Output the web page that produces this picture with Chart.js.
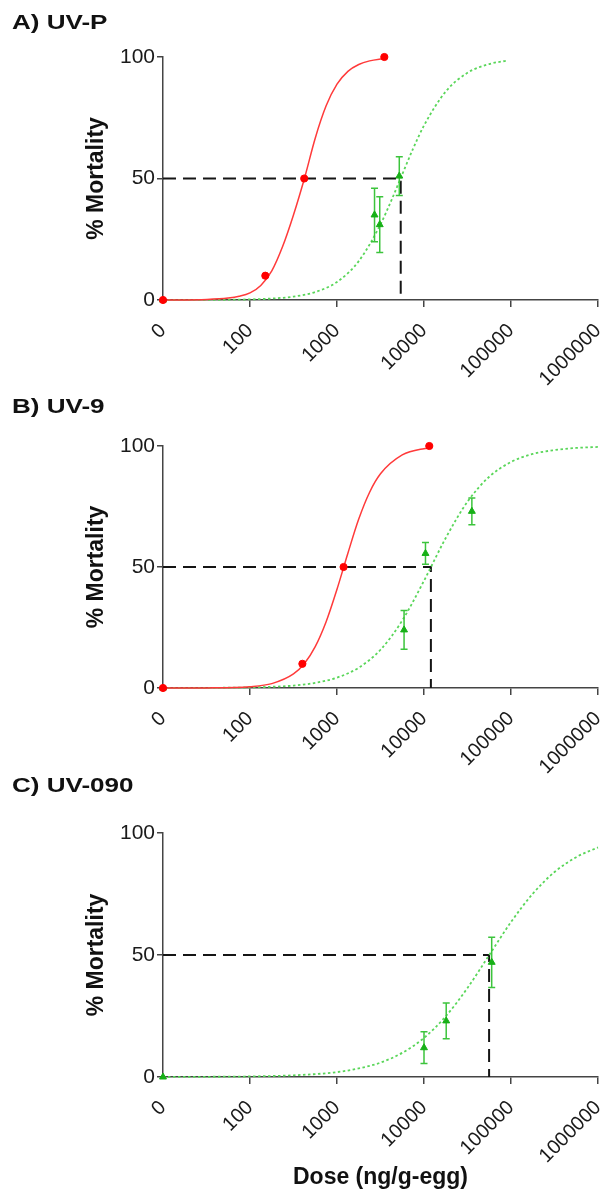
<!DOCTYPE html>
<html><head><meta charset="utf-8">
<script src="https://cdn.jsdelivr.net/npm/chart.js@4.4.1/dist/chart.umd.min.js"></script>
<style>
html,body{margin:0;padding:0;background:#fff;}
body{width:603px;height:1191px;position:relative;overflow:hidden;font-family:"Liberation Sans",Arial,sans-serif;}
.t{position:absolute;left:12px;font-weight:bold;font-size:21px;line-height:21px;color:#111;transform:scaleX(1.24);transform-origin:0 0;white-space:nowrap;}
.w{position:absolute;left:0;width:603px;}
</style></head><body>
<div class="w" style="top:0;height:390px"><canvas id="cA"></canvas></div>
<div class="w" style="top:390px;height:390px"><canvas id="cB"></canvas></div>
<div class="w" style="top:780px;height:411px"><canvas id="cC"></canvas></div>
<div class="t" style="top:11px">A) UV-P</div>
<div class="t" style="top:395px">B) UV-9</div>
<div class="t" style="top:774px">C) UV-090</div>
<script>
// ---- axis ticks ----
const doseTicks = [10, 100, 1000, 10000, 100000, 1000000];
const doseTickLabels = ['0', '100', '1000', '10000', '100000', '1000000'];
const mortTicks = [0, 50, 100];

// ---- Panel A: UV-P ----
const aRedDose = [10, 150, 420, 3500];
const aRedMort = [0, 10, 50, 100];
const aGreenDose = [10, 2700, 3100, 5200];
const aGreenMort = [0, 35, 31, 51];
const aGreenErr = [0, 11, 11.5, 8];
const aRedFitDose = [10, 32, 56, 75, 100, 133, 178, 237, 316, 422, 562, 750, 1000, 1334, 1778, 2371, 3467];
const aRedFitMort = [0, 0.25, 0.8, 1.5, 2.9, 6.0, 12.0, 22.0, 35.0, 50, 66.6, 79.9, 88.8, 94.1, 96.9, 98.4, 99.4];
const aGreenFitDose = [10, 32, 100, 178, 316, 562, 1000, 1778, 3162, 4217, 5623, 7499, 10000, 17783, 31623, 56234, 89125];
const aGreenFitMort = [0, 0.05, 0.25, 0.6, 1.4, 3.3, 7.4, 16.0, 31.1, 41.0, 51.7, 62.3, 71.8, 85.8, 93.5, 97.1, 98.5];
const aLC50 = 5400;

// ---- Panel B: UV-9 ----
const bRedDose = [10, 400, 1190, 11500];
const bRedMort = [0, 10, 50, 100];
const bGreenDose = [10, 5900, 10400, 35500];
const bGreenMort = [0, 24, 55.6, 73];
const bGreenErr = [0, 8, 4.5, 5.5];
const bRedFitDose = [10, 32, 100, 178, 316, 422, 562, 750, 1000, 1334, 1778, 2371, 3162, 5623, 10000, 11482];
const bRedFitMort = [0, 0.05, 0.55, 1.8, 5.8, 10.1, 17.1, 27.4, 40.8, 55.7, 69.8, 80.9, 88.5, 96.3, 98.9, 99.1];
const bGreenFitDose = [10, 32, 100, 316, 562, 1000, 1778, 3162, 5623, 10000, 17783, 31623, 56234, 100000, 177828, 316228, 562341, 1000000];
const bGreenFitMort = [0, 0.06, 0.25, 1.0, 2.1, 4.3, 8.4, 15.8, 27.9, 44.3, 62.0, 77.0, 87.3, 93.4, 96.7, 98.3, 99.2, 99.6];
const bLC50 = 12000;

// ---- Panel C: UV-090 ----
const cGreenDose = [10, 10000, 18000, 60000];
const cGreenMort = [0, 12, 23, 47];
const cGreenErr = [0, 6.5, 7.3, 10.3];
const cGreenFitDose = [10, 32, 100, 316, 1000, 1778, 3162, 5623, 10000, 17783, 31623, 56234, 100000, 177828, 316228, 562341, 1000000];
const cGreenFitMort = [0, 0.08, 0.23, 0.69, 2.0, 3.5, 5.9, 9.9, 16.0, 24.9, 36.5, 50, 63.5, 75.1, 84.0, 90.1, 94.1];
const cLC50 = 56000;

Chart.defaults.font.family = '"Liberation Sans", Arial, sans-serif';
Chart.defaults.color = '#1a1a1a';

const zip = (xs, ys) => xs.map((x, i) => ({x: x, y: ys[i]}));

const errPlugin = {
  id: 'errbars',
  beforeDatasetDraw(chart, args) {
    const ds = chart.data.datasets[args.index];
    if (!ds.errors) return;
    const ctx = chart.ctx, xs = chart.scales.x, ys = chart.scales.y;
    ctx.save();
    ctx.strokeStyle = '#3cc43c';
    ctx.lineWidth = 1.5;
    ds.data.forEach((p, i) => {
      const e = ds.errors[i];
      if (!e) return;
      const x = xs.getPixelForValue(p.x);
      const y1 = ys.getPixelForValue(p.y + e);
      const y2 = ys.getPixelForValue(p.y - e);
      ctx.beginPath();
      ctx.moveTo(x, y1); ctx.lineTo(x, y2);
      ctx.moveTo(x - 3.5, y1); ctx.lineTo(x + 3.5, y1);
      ctx.moveTo(x - 3.5, y2); ctx.lineTo(x + 3.5, y2);
      ctx.stroke();
    });
    ctx.restore();
  }
};

function build(id, H, areaTop, areaBottom, s, showXTitle) {
  const datasets = [
    {data: zip(s.redDose, s.redMort), showLine: false, pointStyle: 'circle', pointRadius: 3.6,
     backgroundColor: '#ff0000', borderColor: '#ff0000', borderWidth: 1, clip: false},
    {data: zip(s.greenDose, s.greenMort), errors: s.greenErr, showLine: false, pointStyle: 'triangle', pointRadius: 4,
     backgroundColor: '#17b017', borderColor: '#17b017', borderWidth: 1, clip: false},
    {data: zip(s.redFitDose, s.redFitMort), showLine: true, pointRadius: 0, borderColor: '#ff3a3a', borderWidth: 1.5,
     cubicInterpolationMode: 'monotone', clip: false},
    {data: zip(s.greenFitDose, s.greenFitMort), showLine: true, pointRadius: 0, borderColor: '#5ad65a', borderWidth: 1.8,
     borderDash: [2.5, 2.5], cubicInterpolationMode: 'monotone', clip: false},
    {data: [{x: 10, y: 50}, {x: s.lc50, y: 50}, {x: s.lc50, y: 0}], showLine: true, pointRadius: 0,
     borderColor: '#151515', borderWidth: 2, borderDash: [13, 7], tension: 0, clip: false}
  ];
  return new Chart(document.getElementById(id), {
    type: 'scatter',
    data: {datasets: datasets},
    plugins: [errPlugin],
    options: {
      responsive: true, maintainAspectRatio: false, animation: false, events: [],
      layout: {padding: {top: areaTop, right: 5, left: 0, bottom: 0}},
      plugins: {legend: {display: false}, tooltip: {enabled: false}},
      scales: {
        x: {
          type: 'logarithmic', min: 10, max: 1000000, position: 'bottom',
          afterBuildTicks: (sc) => { sc.ticks = doseTicks.map(v => ({value: v})); },
          afterFit: (sc) => { sc.height = H - areaBottom; sc.paddingLeft = 0; sc.paddingRight = 0; },
          ticks: {autoSkip: false, minRotation: 45, maxRotation: 45, padding: 12, labelOffset: 0,
                  font: {size: 20}, color: '#1a1a1a',
                  callback: (v, i) => doseTickLabels[i]},
          grid: {drawOnChartArea: false, drawTicks: true, tickLength: 7, lineWidth: 1.5,
                 color: (c) => c.index === 0 ? 'rgba(0,0,0,0)' : '#444'},
          border: {display: true, color: '#444', width: 1.5},
          title: {display: showXTitle, text: 'Dose (ng/g-egg)', font: {size: 23, weight: 'bold'},
                  color: '#111', padding: {top: 0, bottom: 0}}
        },
        y: {
          type: 'linear', min: 0, max: 100,
          afterBuildTicks: (sc) => { sc.ticks = mortTicks.map(v => ({value: v})); },
          afterFit: (sc) => { sc.width = 163; sc.paddingTop = 0; sc.paddingBottom = 0; },
          ticks: {padding: 2, font: {size: 21}, color: '#1a1a1a'},
          grid: {drawOnChartArea: false, drawTicks: true, tickLength: 6, lineWidth: 1.5, color: '#444'},
          border: {display: true, color: '#444', width: 1.5},
          title: {display: true, text: '% Mortality', font: {size: 23, weight: 'bold'}, color: '#111',
                  padding: {top: 83, bottom: 0}}
        }
      }
    }
  });
}

build('cA', 390, 57, 300, {
  redDose: aRedDose, redMort: aRedMort, greenDose: aGreenDose, greenMort: aGreenMort, greenErr: aGreenErr,
  redFitDose: aRedFitDose, redFitMort: aRedFitMort, greenFitDose: aGreenFitDose, greenFitMort: aGreenFitMort, lc50: aLC50
}, false);
build('cB', 390, 56, 298, {
  redDose: bRedDose, redMort: bRedMort, greenDose: bGreenDose, greenMort: bGreenMort, greenErr: bGreenErr,
  redFitDose: bRedFitDose, redFitMort: bRedFitMort, greenFitDose: bGreenFitDose, greenFitMort: bGreenFitMort, lc50: bLC50
}, false);
build('cC', 411, 53, 297, {
  redDose: [], redMort: [], greenDose: cGreenDose, greenMort: cGreenMort, greenErr: cGreenErr,
  redFitDose: [], redFitMort: [], greenFitDose: cGreenFitDose, greenFitMort: cGreenFitMort, lc50: cLC50
}, true);
</script>
</body></html>
